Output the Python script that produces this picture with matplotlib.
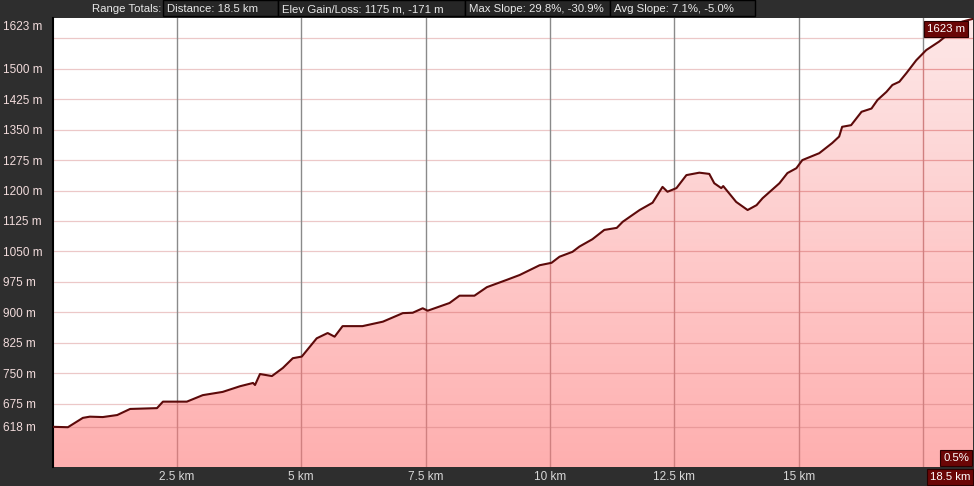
import numpy as np
import matplotlib.pyplot as plt
from matplotlib.patches import Rectangle
from matplotlib.colors import LinearSegmentedColormap

plt.rcParams['font.family'] = ['Liberation Sans', 'DejaVu Sans']

# elevation profile (km, m)
dist_km = [0.00, 0.31, 0.61, 0.75, 1.01, 1.30, 1.56, 2.10, 2.22, 2.70, 3.02, 3.42,
           3.77, 4.03, 4.07, 4.17, 4.41, 4.63, 4.83, 5.01, 5.31, 5.53, 5.67, 5.83,
           6.23, 6.64, 7.04, 7.24, 7.44, 7.54, 7.98, 8.18, 8.48, 8.73, 9.13, 9.39,
           9.79, 10.03, 10.19, 10.45, 10.59, 10.85, 11.09, 11.34, 11.46, 11.60, 11.80,
           12.06, 12.26, 12.36, 12.54, 12.74, 13.00, 13.20, 13.30, 13.44, 13.48, 13.74,
           13.97, 14.15, 14.27, 14.61, 14.77, 14.95, 15.07, 15.41, 15.67, 15.81, 15.87,
           16.05, 16.26, 16.46, 16.58, 16.76, 16.88, 17.02, 17.16, 17.36, 17.56, 17.82,
           18.02, 18.28, 18.50]
elev_m = [618, 617, 640, 643, 642, 647, 662, 664, 680, 680, 696, 704,
          718, 726, 721, 748, 743, 763, 787, 791, 836, 849, 840, 866,
          866, 877, 898, 899, 910, 904, 923, 941, 941, 962, 980, 992,
          1016, 1022, 1037, 1049, 1062, 1080, 1103, 1108, 1123, 1135, 1152,
          1170, 1209, 1197, 1206, 1238, 1244, 1241, 1218, 1206, 1211, 1172,
          1152, 1164, 1181, 1218, 1243, 1255, 1275, 1292, 1317, 1333, 1357,
          1361, 1394, 1402, 1423, 1443, 1460, 1468, 1489, 1521, 1546, 1567,
          1587, 1616, 1623]

x_ticks = [2.5, 5, 7.5, 10, 12.5, 15, 17.5]
x_labels = ["2.5 km", "5 km", "7.5 km", "10 km", "12.5 km", "15 km", ""]
y_grid = [618, 675, 750, 825, 900, 975, 1050, 1125, 1200, 1275, 1350, 1425, 1500, 1575]
y_ticks = [618, 675, 750, 825, 900, 975, 1050, 1125, 1200, 1275, 1350, 1425, 1500]
y_top_label = "1623 m"
header_items = ["Distance: 18.5 km", "Elev Gain/Loss: 1175 m, -171 m",
                "Max Slope: 29.8%, -30.9%", "Avg Slope: 7.1%, -5.0%"]

BG = "#2e2e2e"
W, H = 974, 486
fig = plt.figure(figsize=(W / 100, H / 100), dpi=100, facecolor=BG)
ax = fig.add_axes([52.5 / W, 19 / H, 920.5 / W, 449 / H])
ymin, ymax = 519, 1625
ax.set_xlim(0, 18.5)
ax.set_ylim(ymin, ymax)
ax.set_facecolor("white")

# gradient fill under the profile
cmap = LinearSegmentedColormap.from_list("pinkfade", ["#ffafaf", "#fde8e8"])
grad = np.linspace(0, 1, 256).reshape(-1, 1)
img = ax.imshow(grad, extent=[0, 18.5, ymin, ymax], origin="lower", cmap=cmap,
                aspect="auto", zorder=1)
poly = ax.fill_between(dist_km, elev_m, ymin, color="none", lw=0)
clip = poly.get_paths()[0]
img.set_clip_path(clip, transform=ax.transData)

# grid: plain above the profile, tinted inside the fill
for v in y_grid:
    ax.axhline(v, color="#ecc8c8", lw=0.9, zorder=0.5)
    hl = ax.axhline(v, color="#e99a9a", lw=0.9, zorder=2)
    hl.set_clip_path(clip, transform=ax.transData)
for v in x_ticks:
    ax.axvline(v, color="#8a8a8a", lw=1.0, zorder=0.5)
    vl = ax.axvline(v, color="#d08080", lw=1.0, zorder=2)
    vl.set_clip_path(clip, transform=ax.transData)

ax.plot(dist_km, elev_m, color="#5c0a0a", lw=1.5, zorder=3)

ax.set_xticks(x_ticks, x_labels)
ax.set_yticks(y_ticks, [f"{v} m" for v in y_ticks])
ax.tick_params(length=0, labelsize=8.5)
ax.tick_params(axis="x", colors="#d8d8d8", pad=3)
ax.tick_params(axis="y", colors="#f2dcdc", pad=35.5)
for lbl in ax.get_yticklabels():
    lbl.set_horizontalalignment("left")
for s in ax.spines.values():
    s.set_visible(False)
ax.spines["left"].set_visible(True)
ax.spines["left"].set_color("black")
ax.spines["left"].set_linewidth(1.5)

# top elevation label sits a little below the frame top
fig.text(3 / W, 1 - 27 / H, y_top_label, color="#f2dcdc", fontsize=8.5,
         ha="left", va="center")

# header bar
fig.text(161 / W, 1 - 9 / H, "Range Totals:", color="#e8e8e8", fontsize=8.2,
         ha="right", va="center")
edges = [163, 278, 465, 610, 755]
for i, txt in enumerate(header_items):
    x0, x1 = edges[i], edges[i + 1]
    fig.add_artist(Rectangle((x0 / W, 1 - 16 / H), (x1 - x0) / W, 16 / H,
                             transform=fig.transFigure, facecolor="#262626",
                             edgecolor="black", lw=1.0))
    fig.text((x0 + 4) / W, 1 - 9 / H, txt, color="#e8e8e8", fontsize=8.2,
             ha="left", va="center")

# value badges
badge = dict(boxstyle="square,pad=0.25", facecolor="#6a0606", edgecolor="#2a0000", lw=0.8)
fig.text(965 / W, 1 - 29 / H, "1623 m", color="white", fontsize=8.2,
         ha="right", va="center", bbox=badge)
fig.text(969 / W, 1 - 458 / H, "0.5%", color="white", fontsize=8.2,
         ha="right", va="center", bbox=badge)
fig.text(970 / W, 1 - 477 / H, "18.5 km", color="white", fontsize=8.2,
         ha="right", va="center", bbox=badge)

fig.savefig("out.png", dpi=100, facecolor=BG)
